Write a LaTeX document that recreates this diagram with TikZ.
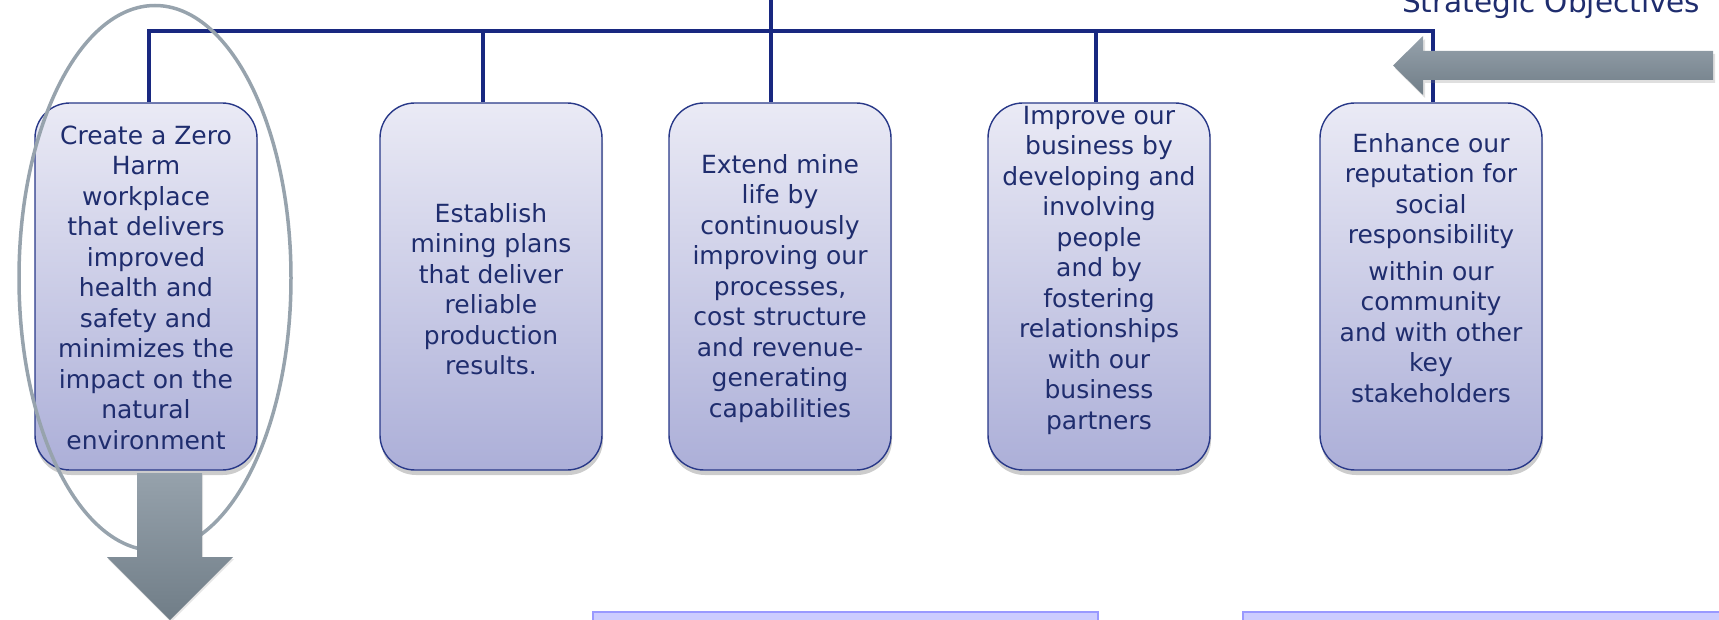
\documentclass[tikz,border=0pt]{standalone}
\usepackage{fontspec}
\setmainfont{DejaVu Sans}
\usetikzlibrary{shapes.geometric,shadows}

\definecolor{navy}{RGB}{24,40,128}
\definecolor{ink}{RGB}{31,45,110}
\definecolor{boxtop}{RGB}{234,234,245}
\definecolor{boxbot}{RGB}{172,175,216}
\definecolor{boxedge}{RGB}{40,56,136}
\definecolor{steel}{RGB}{151,163,173}
\definecolor{steeltop}{RGB}{150,162,172}
\definecolor{steelbot}{RGB}{112,125,135}
\definecolor{panelfill}{RGB}{204,204,255}
\definecolor{paneledge}{RGB}{153,153,255}

\tikzset{
  objective/.style={rounded corners=35pt, draw=boxedge, line width=1.4pt,
    top color=boxtop, bottom color=boxbot,
    minimum width=222pt, minimum height=367pt, inner sep=0pt,
    drop shadow={shadow xshift=1pt, shadow yshift=-5pt, opacity=0.4}},
  objtext/.style={align=center, text=ink, inner sep=0pt,
    font=\fontsize{25}{30.5}\selectfont},
  conn/.style={draw=navy, line width=4pt},
  bigarrow/.style={top color=steeltop, bottom color=steelbot},
  panel/.style={draw=paneledge, fill=panelfill, line width=1.5pt,
    anchor=north west, minimum height=40pt, inner sep=0pt},
}

\begin{document}
\begin{tikzpicture}[x=1pt, y=-1pt]
  \useasboundingbox (0,0) rectangle (1719,620);
  \clip (0,0) rectangle (1719,620);

  % objective boxes
  \node[objective] (b1) at (146,286.5) {};
  \node[objective] (b2) at (491,286.5) {};
  \node[objective] (b3) at (780,286.5) {};
  \node[objective] (b4) at (1099,286.5) {};
  \node[objective] (b5) at (1431,286.5) {};

  % tree of connectors from the top
  \coordinate (hub) at (771,0);
  \coordinate (d1) at (149,31);
  \coordinate (d2) at (483,31);
  \coordinate (d4) at (1096,31);
  \coordinate (d5) at (1433,31);
  \draw[conn] (hub) -- (hub |- b3.north);
  \draw[conn] (b1.north -| d1) -- (d1) -- (d5) -- (b5.north -| d5);
  \draw[conn] (d2) -- (d2 |- b2.north);
  \draw[conn] (d4) -- (d4 |- b4.north);

  % box texts
  \node[objtext] (t1) at (146,287.5) {Create a Zero\\Harm\\workplace\\that delivers\\improved\\health and\\safety and\\minimizes the\\impact on the\\natural\\environment};
  \node[objtext] (t2) at (491,289) {Establish\\mining plans\\that deliver\\reliable\\production\\results.};
  \node[objtext] (t3) at (780,288.5) {Extend mine\\life by\\continuously\\improving our\\processes,\\cost structure\\and revenue-\\generating\\capabilities};
  \node[objtext] (t4) at (1099,270) {Improve our\\business by\\developing and\\involving\\people\\and by\\fostering\\relationships\\with our\\business\\partners};
  \node[objtext] (t5) at (1431,268) {Enhance our\\reputation for\\social\\responsibility\\[6pt]within our\\community\\and with other\\key\\stakeholders};

  % highlight ring round the first objective
  \node[ellipse, draw=steel, line width=3.5pt, inner sep=0pt,
        minimum width=272pt, minimum height=545pt] (focus) at (155,278) {};

  % downward arrow below the first objective
  \path[bigarrow, drop shadow={shadow xshift=1pt, shadow yshift=-2pt, opacity=0.2}]
    (137,473) -- (202,473) -- (202,557) -- (233,557) -- (170,620)
    -- (107,557) -- (137,557) -- cycle;

  % arrow pointing at the objectives row
  \path[bigarrow, drop shadow={shadow xshift=2pt, shadow yshift=-3pt, opacity=0.25}]
    (1713,51) -- (1423,51) -- (1423,36) -- (1393,65.5) -- (1423,95)
    -- (1423,80) -- (1713,80) -- cycle;

  \node[anchor=base west, inner sep=0pt, text=ink,
        font=\fontsize{29.5}{32}\selectfont] (title) at (1402,13) {Strategic Objectives};

  % panels along the lower edge
  \node[panel, minimum width=505pt] (p1) at (592,611) {};
  \node[panel, minimum width=500pt] (p2) at (1242,611) {};
\end{tikzpicture}
\end{document}
